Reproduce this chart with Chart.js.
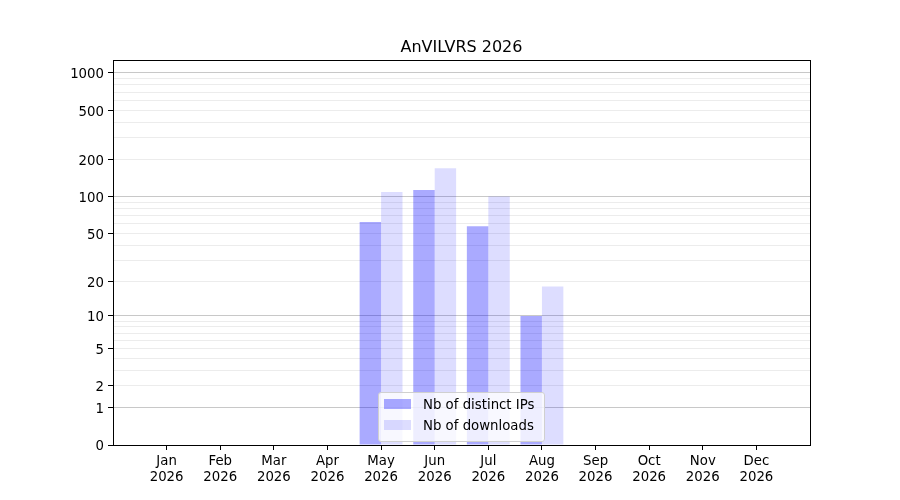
<!DOCTYPE html>
<html>
<head>
<meta charset="utf-8">
<script src="https://cdn.jsdelivr.net/npm/chart.js@4/dist/chart.umd.min.js"></script>
<style>
  body { margin: 0; background: #fff; }
  #wrap { position: relative; width: 900px; height: 500px; }
  #legend {
    position: absolute; left: 378px; top: 392px; width: 165px; height: 48px;
    background: rgba(255,255,255,0.8); border: 1px solid #d0d0d0; border-radius: 3px;
    font-family: 'DejaVu Sans', sans-serif; font-size: 13.3px; color: #000;
  }
  #legend .row { position: absolute; left: 5px; height: 16px; line-height: 16px; white-space: nowrap; }
  #legend .sw { display: inline-block; width: 27px; height: 10px; vertical-align: middle; margin-right: 12px; position: relative; top: -1px; }
</style>
</head>
<body>
<div id="wrap">
  <canvas id="adminChart" width="900" height="500"></canvas>
  <div id="legend">
    <div class="row" style="top:4px"><span class="sw" style="background:rgba(0,0,255,0.333)"></span>Nb of distinct IPs</div>
    <div class="row" style="top:25px"><span class="sw" style="background:rgba(0,0,255,0.133)"></span>Nb of downloads</div>
  </div>
</div>
<script>
// Chart data
const months = ['Jan', 'Feb', 'Mar', 'Apr', 'May', 'Jun', 'Jul', 'Aug', 'Sep', 'Oct', 'Nov', 'Dec'];
const year = '2026';
const distinctIPs = [0, 0, 0, 0, 62, 113, 57, 10, 0, 0, 0, 0];
const downloads = [0, 0, 0, 0, 109, 170, 100, 18, 0, 0, 0, 0];
const yLabelTicks = [0, 1, 2, 5, 10, 20, 50, 100, 200, 500, 1000];
const yMajorTicks = [1, 10, 100, 1000];
const yMinorTicks = [2, 3, 4, 5, 6, 7, 8, 9, 20, 30, 40, 50, 60, 70, 80, 90, 200, 300, 400, 500, 600, 700, 800, 900];

// log10(1 + x) axis
class Log1pScale extends Chart.LinearScale {
    static id = 'log1p';
    getPixelForValue(value) {
        const lmin = Math.log10(1 + this.min);
        const lmax = Math.log10(1 + this.max);
        return this.getPixelForDecimal((Math.log10(1 + value) - lmin) / (lmax - lmin));
    }
    getValueForPixel(pixel) {
        const lmin = Math.log10(1 + this.min);
        const lmax = Math.log10(1 + this.max);
        return Math.pow(10, lmin + this.getDecimalForPixel(pixel) * (lmax - lmin)) - 1;
    }
    // nudge labels down a little, like matplotlib's baseline
    _computeLabelItems(chartArea) {
        const items = super._computeLabelItems(chartArea);
        items.forEach(item => { item.options.translation[1] += 2; });
        return items;
    }
}
Chart.register(Log1pScale);

Chart.defaults.font.family = "'DejaVu Sans', sans-serif";
Chart.defaults.color = '#000';

const labels = [''].concat(months.map(m => [m, year]), ['']);
const pad = arr => [null].concat(arr, [null]);

const frame = {
    id: 'frame',
    afterDraw(chart) {
        const a = chart.chartArea;
        const ctx = chart.ctx;
        ctx.save();
        ctx.strokeStyle = '#000';
        ctx.lineWidth = 1;
        ctx.strokeRect(Math.round(a.left) + 0.5, Math.round(a.top) + 0.5, Math.round(a.right - a.left), Math.round(a.bottom - a.top));
        ctx.restore();
    }
};

new Chart(document.getElementById('adminChart'), {
    type: 'bar',
    data: {
        labels: labels,
        datasets: [{
            label: 'Nb of distinct IPs',
            data: pad(distinctIPs),
            backgroundColor: 'rgba(0, 0, 255, 0.333)',
            borderWidth: 0
        }, {
            label: 'Nb of downloads',
            data: pad(downloads),
            backgroundColor: 'rgba(0, 0, 255, 0.133)',
            borderWidth: 0
        }]
    },
    options: {
        responsive: false,
        animation: false,
        devicePixelRatio: 1,
        categoryPercentage: 0.8,
        barPercentage: 1.0,
        layout: { padding: { left: 0, right: 90, top: 0, bottom: 0 } },
        plugins: {
            legend: { display: false },
            tooltip: { enabled: false },
            title: {
                display: true,
                text: 'AnVILVRS 2026',
                fullSize: false,
                color: '#000',
                font: { size: 16, weight: 'normal', lineHeight: 1.2 },
                padding: { top: 38.4, bottom: 2.4 }
            }
        },
        scales: {
            x: {
                type: 'category',
                offset: false,
                grid: {
                    offset: false,
                    drawOnChartArea: false,
                    drawTicks: true,
                    tickLength: 5,
                    tickColor: ctx => (ctx.index === 0 || ctx.index === labels.length - 1) ? 'rgba(0,0,0,0)' : '#000'
                },
                border: { color: '#000', width: 1 },
                ticks: {
                    autoSkip: false,
                    maxRotation: 0,
                    padding: 4,
                    font: { size: 13.3, lineHeight: 1.2 }
                },
                afterFit: scale => { scale.height = 55; }
            },
            y: {
                type: 'log1p',
                min: 0,
                max: 1273,
                bounds: 'data',
                afterBuildTicks: scale => {
                    scale.ticks = [0, 1].concat(yMinorTicks, [10, 100, 1000])
                        .sort((a, b) => a - b)
                        .map(v => ({ value: v }));
                },
                grid: {
                    color: ctx => {
                        const v = ctx.tick ? ctx.tick.value : null;
                        if (v === 0) return 'rgba(0,0,0,0)';
                        return yMajorTicks.includes(v) ? '#c8c8c8' : '#ececec';
                    },
                    lineWidth: 1,
                    tickLength: 5,
                    tickColor: ctx => (ctx.tick && yLabelTicks.includes(ctx.tick.value)) ? '#000' : 'rgba(0,0,0,0)'
                },
                border: { color: '#000', width: 1 },
                ticks: {
                    autoSkip: false,
                    padding: 4,
                    font: { size: 13.3 },
                    callback: value => yLabelTicks.includes(value) ? String(value) : ''
                },
                afterFit: scale => { scale.width = 113; }
            }
        }
    },
    plugins: [frame]
});
</script>
</body>
</html>
